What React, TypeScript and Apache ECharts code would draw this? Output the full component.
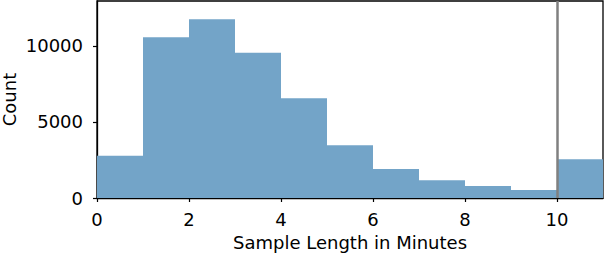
import React, { useEffect, useRef } from "react";
import * as echarts from "echarts";

const binStarts = [0, 1, 2, 3, 4, 5, 6, 7, 8, 9, 10];
const binWidth = 1;
const counts = [2780, 10570, 11760, 9560, 6560, 3465, 1905, 1160, 790, 525, 2545];
const xTicks = [0, 2, 4, 6, 8, 10];
const yTicks = [0, 5000, 10000];
const cutoff = 10;

export default function App() {
  const ref = useRef<HTMLDivElement>(null);
  useEffect(() => {
    const chart = echarts.init(ref.current!, null, { renderer: "svg" });
    const font = "DejaVu Sans";
    const data = binStarts.map((s, i) => [s, s + binWidth, counts[i]]);
    chart.setOption({
      animation: false,
      grid: {
        left: 97,
        right: 1,
        top: 1,
        bottom: 56,
        show: true,
        borderColor: "#000",
        borderWidth: 1.3,
        backgroundColor: "transparent",
        containLabel: false,
        outerBoundsMode: "none",
      },
      xAxis: {
        type: "value",
        min: 0,
        max: 11,
        interval: 2,
        name: "Sample Length in Minutes",
        nameLocation: "middle",
        nameGap: 35,
        nameMoveOverlap: false,
        nameTextStyle: { fontFamily: font, fontSize: 18, color: "#000" },
        axisLine: { show: true, lineStyle: { color: "#000", width: 1.3 } },
        axisTick: { show: true, length: 4, lineStyle: { color: "#000", width: 1.2 }, customValues: xTicks },
        axisLabel: {
          fontFamily: font,
          fontSize: 18,
          color: "#000",
          margin: 12,
          customValues: xTicks,
          formatter: (v: number) => String(v),
        },
        splitLine: { show: false },
      },
      yAxis: {
        type: "value",
        min: 0,
        max: 12960,
        interval: 5000,
        name: "Count",
        nameLocation: "middle",
        nameGap: 79,
        nameMoveOverlap: false,
        nameTextStyle: { fontFamily: font, fontSize: 18, color: "#000" },
        axisLine: { show: true, lineStyle: { color: "#000", width: 1.3 } },
        axisTick: { show: true, length: 4, lineStyle: { color: "#000", width: 1.2 }, customValues: yTicks },
        axisLabel: {
          fontFamily: font,
          fontSize: 18,
          color: "#000",
          margin: 14,
          customValues: yTicks,
          formatter: (v: number) => String(v),
        },
        splitLine: { show: false },
      },
      series: [
        {
          type: "custom",
          data,
          encode: { x: [0, 1], y: 2 },
          renderItem: (params: any, api: any) => {
            const p0 = api.coord([api.value(0), api.value(2)]);
            const p1 = api.coord([api.value(1), 0]);
            return {
              type: "rect",
              shape: { x: p0[0], y: p0[1], width: p1[0] - p0[0], height: p1[1] - p0[1] },
              style: { fill: "#73A4C8", stroke: null },
            };
          },
          markLine: {
            symbol: "none",
            silent: true,
            label: { show: false },
            lineStyle: { color: "#808080", width: 2.5, type: "solid" },
            data: [{ xAxis: cutoff }],
          },
        },
      ],
    });
    return () => chart.dispose();
  }, []);
  return <div ref={ref} style={{ width: 604, height: 254, position: "absolute", left: 0, top: 0 }} />;
}
